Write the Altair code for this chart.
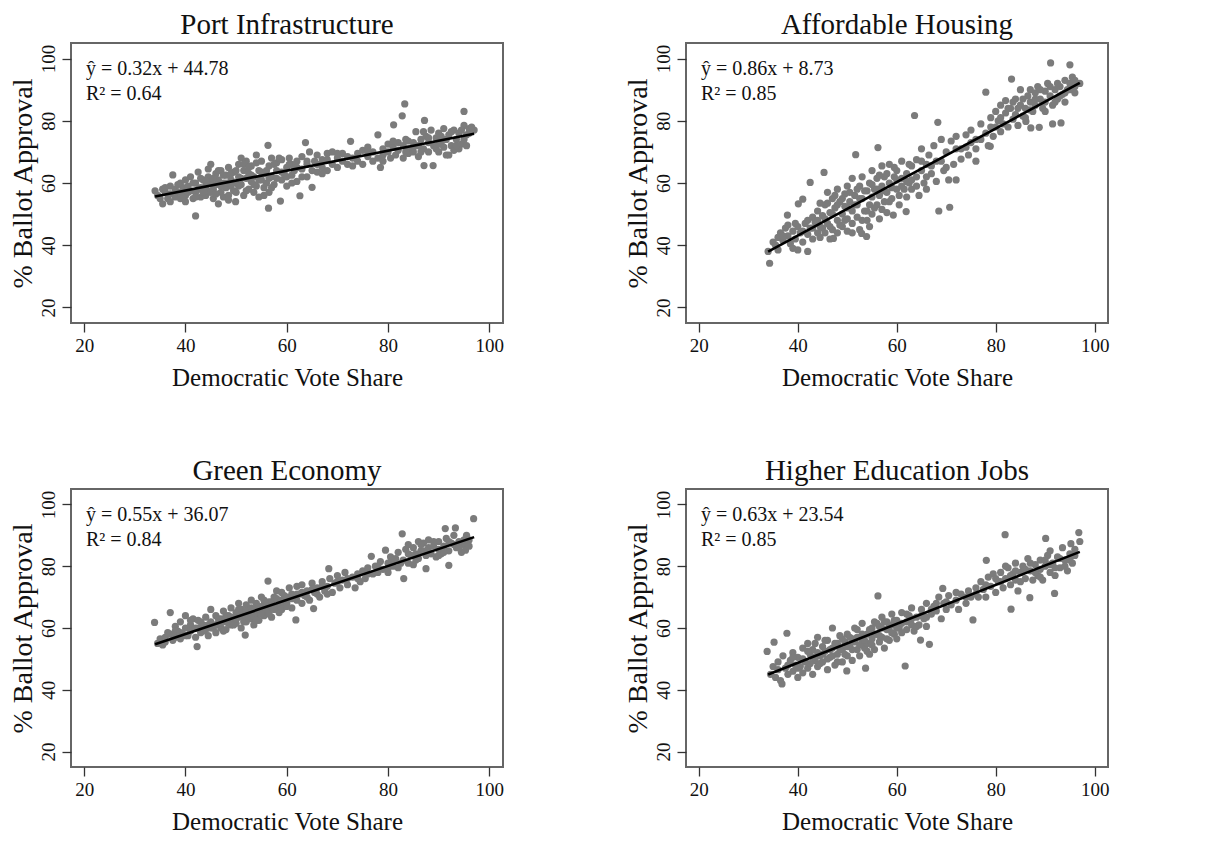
import altair as alt
import pandas as pd

# ---------------- data ----------------
titles = ["Port Infrastructure", "Affordable Housing", "Green Economy", "Higher Education Jobs"]
slopes = [0.32, 0.86, 0.55, 0.63]
intercepts = [44.78, 8.73, 36.07, 23.54]
eq_labels = ["ŷ = 0.32x + 44.78", "ŷ = 0.86x + 8.73", "ŷ = 0.55x + 36.07", "ŷ = 0.63x + 23.54"]
r2_labels = ["R² = 0.64", "R² = 0.85", "R² = 0.84", "R² = 0.85"]
line_x = [34, 97]
tick_values = [20, 40, 60, 80, 100]

port_pts = [
    (34,57.5),(34.5,56),(35,55),(35.5,58),(35.5,53.3),(36,57),(36.5,55),(37,56.5),(37,59),(37.5,62.6),
    (38,58),(38,55.5),(38.5,57),(39,60),(39,55),(39.5,58.5),(40,61),(40,56),(40,54),(40.5,59),
    (41,57.5),(41,62),(41.5,55),(42,49.4),(42,60),(42,57),(42.5,63.5),(43,58.5),(43,55.5),(43.5,61),
    (44,59),(44,56),(44.5,62),(44.5,57.5),(45,60.5),(45,66),(45.5,58),(45.5,55),(46,63),(46,59.5),
    (46.5,53.3),(46.5,61),(47,57),(47,64),(47.5,60),(47.5,55.5),(48,62.5),(48,58.5),(48.5,65),(48.5,56),
    (49,61),(49,59),(49.5,63.5),(49.9,54),(50,60),(50,57),(50.5,66),(50.5,62),(51,68),(51,59.5),
    (51.5,64),(51.5,56),(52,61.5),(52,67),(52.5,58),(52.5,63),(53,60.5),(53,65.5),(53.5,57),(53.5,62),
    (54,69),(54,59),(54.5,64),(54.5,55.5),(55,61),(55,67),(55.5,58.5),(55.5,63),(56,60),(56.3,72.1),
    (56.4,51.9),(56.5,65.5),(56.5,57),(57,62),(57,68),(57.5,59.5),(58,64),(58,66.5),(58.75,54.2),(59,61),
    (59,67.5),(59.5,63),(60,65),(60,59),(60.5,68),(61,62.5),(61,66),(61.5,64),(62,67),(62,60.5),
    (62.6,55.9),(63,64.5),(63,68.5),(63.7,73),(64,62),(64,66),(64.5,70),(65,58.6),(65,64),(65.5,67),
    (66,63.5),(66,69),(67,65),(67,67.5),(68,64),(68,69.5),(69,66),(69,70),(70,68),(70,65),
    (71,67),(71,69.5),(72,66),(72.6,73.4),(73,68),(73,65.5),(74,69.5),(74,67),(75,70.5),(75,66),
    (76,68.5),(76,71.5),(77,67),(77,70),(78,75.5),(78,68),(78.5,65),(79,71),(79,69),(80,70),
    (80,72.5),(80.5,68),(81,71.5),(81.1,78.7),(81.5,69),(82,73),(82,70.5),(82.8,81.6),(83,72),(83,68),
    (83.3,85.4),(83.5,74),(84,71),(84,69.5),(85,73),(85,70),(85.5,76.5),(86,72),(86,68.5),(86.5,74),
    (87,71),(87.1,65.6),(87.2,80.1),(87.5,75),(88,73),(88,70),(88.5,77),(88.9,65.6),(89,72),(89.5,74.5),
    (90,70),(90,76),(90.5,73),(91,71.5),(91,77.5),(91.5,74),(92,69),(92,75.5),(92.5,72),(93,70.5),
    (93,77),(93.5,74),(94,71),(94,76),(94.5,72.5),(95,83),(95,78.5),(95,74),(95.5,72),(96,76),
    (96,77.5),(97,77),
    (36,58.5),(37,54),(38.5,59.5),(39.5,56),(40.5,57),(41.5,60),(42,55.5),(42.5,58),(43,61.5),(43.5,57),
    (44,60.5),(44.5,64.5),(45,57),(45.5,61.5),(46,56.5),(46.5,64),(47,59),(47.5,62.5),(48,60),(48.5,54.5),
    (49,63),(49.5,57.5),(50,64),(50.5,59),(51,61.5),(51.5,66),(52,57.5),(52.5,65),(53,62.5),(53.5,59.5),
    (54,66.5),(54.5,61),(55,63.5),(55.5,56),(56,64),(56.5,61.5),(57,58.5),(57.5,66),(58,61.5),(58.5,68),
    (59,63.5),(60,62),(60.5,66),(61,60),(62,65),(63,62),(64,67),(66,66),(67,63),(68,67.5),
    (70,69.5),(72,68.5),(76,70),(79,67),(81,73.5),(84,73.5),(85,71.5),(86.5,70),(88,74.5),(89.5,71),
    (90.5,75),(91.5,69),(92.5,76.5),(93.5,72),(94.5,77),(95.5,75.5),(96.5,78),(90,72.5),(87,76.5),(83.5,70),
]

housing_pts = [
    (34,38),(34.3,34.2),(35,41),(35.5,40),(36,42.5),(36,38.5),(36.5,44),(37,41.5),(37.5,45.5),(37.9,49.7),
    (38,43),(38.5,40.5),(39,44.5),(39,39),(39.5,42),(40,46),(40,38.5),(40.1,53.3),(40.5,44),(41,54.8),
    (41,41),(41.5,47),(42,43.5),(42,38),(42.5,60.2),(42.5,45.5),(43,49),(43,42),(43.5,47.5),(44,44),
    (44,51),(44.5,46),(44.5,42.5),(45,49.5),(45.3,63.4),(45.5,44),(45.5,53),(46,47),(46,57),(46.5,42),
    (46.5,50.5),(47,55),(47,45),(47.2,42.2),(47.5,52),(48,48),(48,58),(48,44),(48.5,54),(49,50),
    (49,46),(49.5,56.5),(49.5,52.5),(50,48.5),(50,59),(50,44.5),(50.5,54),(51,51),(51,61.5),(51,47),
    (51.7,69.1),(51.5,56),(52,53),(52,49),(52.5,59),(52.5,45),(52.9,43.8),(53,55),(53,62),(53.5,51),
    (53.9,42.8),(54,57.5),(54,48),(54.5,60),(54.5,53),(55,55.5),(55,64),(55,50),(55.5,58),(56,53),
    (56,61.5),(56.2,71.4),(56.5,56),(56.5,48.5),(57,59),(57,65.5),(57.5,54),(57.5,62),(58,57),(58,50.5),
    (58.5,60),(58.5,66),(59,55),(59.3,49.7),(59.5,62),(60,58),(60,64),(60.5,56),(61,61.5),(61,67),
    (61.5,58),(61.9,50.8),(62,63),(62,55.5),(62.5,60),(63,65.5),(63,58),(63.6,81.7),(64,62),(64,67.5),
    (64.5,56),(65,64),(65,71),(65.5,60),(66,66),(66,58),(66.5,69),(67,63),(67.5,72),(68,60.5),
    (68.3,79.5),(68.5,51),(69,67),(69,74),(69.5,64),(70,70),(70.5,61),(70.7,52.2),(71,73.5),(71.5,66),
    (72,61),(72,75),(73,67.7),(73,71),(74,75.5),(74.5,69),(75,73),(75,77),(76,67),(76,71),
    (77,79),(77,74),(78,89.2),(78,76),(78.5,72),(78.9,71.8),(79,81),(79.5,75),(80,83),(80,78),
    (80.5,80),(81,76.5),(81,85),(81.5,79),(82,82.5),(82,86.5),(82.5,78),(83,84),(83.2,93.4),(83.5,80.5),
    (84,87),(84,82),(84.5,78.5),(85,85),(85,90),(85.5,81.5),(86,84),(86.1,79.8),(86.5,88),(87,86),
    (87,90),(87.1,77.7),(87.5,83),(88,89),(88,85),(88.5,91),(88.8,77.9),(89,87),(89.5,84),(90,89.5),
    (90,86),(90.5,92),(91,88),(91.1,98.6),(91.5,79),(91.5,85),(92,90),(92.5,87),(93,91),(93.2,79.3),
    (93.5,88.5),(94,93),(94,86),(94.5,90),(95,98),(95,92),(95.5,94),(96,91),(96,89),(97,92),
    (43,45.5),(44,48),(45,45.5),(45.5,48.5),(46,53.5),(46.5,46),(47,50),(47.5,56),(48,53),(48.5,46.5),
    (49,55),(49.5,48),(50,52),(50.5,57),(51,44),(51.5,53),(52,58),(52.5,55),(53,48),(53.5,57.5),
    (54,51),(54.5,46),(55,59.5),(55.5,52),(56,58),(56.5,62.5),(57,51.5),(57.5,57.5),(58,63),(58.5,54),
    (59,58.5),(59.5,65),(60,61),(60.5,53),(61,59),(62,60.5),(62.5,66),(63,61),(64,59),(65,67),
    (66,62),(67,65.5),(68,67),(70,65),(72,71),(74,71.5),(76,74),(79,78),(81,81),(82.5,84),
    (83.5,86),(84.5,84),(85.5,87),(86,81),(87,83.5),(88,87),(89,90),(89.5,86),(90,83),(91,91),
    (92,86),(92.5,92),(93,88),(94,89),(95,90),(96,93),(37,43),(38,46.5),(39.5,47),(41,44.5),
    (42,48),(44.5,53.5),
]

green_pts = [
    (33.9,61.8),(34.5,55),(35,56.5),(35.5,54.5),(36,57),(36,55.5),(37,65),(37,58),(37.5,56),(38,60.5),
    (38,57),(38.5,59),(39,62),(39,56.5),(39.5,58),(40,60),(40,64),(40.5,57.5),(41,61),(41,59),
    (41.5,63),(42,57),(42.3,54),(42.5,60),(42.5,62.5),(43,58.5),(43.5,61),(44,63.5),(44,59.5),(44.5,57.5),
    (45,62),(45,66),(45.5,60),(46,64),(46,58.5),(46.5,61.5),(47,63),(47,60),(47.5,65.5),(48,62),
    (48,59.5),(48.5,64),(49,61),(49,66.5),(49.5,63),(50,65),(50,61.5),(50.5,68),(50.5,63.5),(51,60),
    (51,66),(51.5,64),(51.8,57.7),(52,62),(52,67.5),(52.5,65),(53,63),(53,69),(53.5,61),(53.5,66),
    (54,64.5),(54,68),(54.5,62.5),(55,66),(55,70),(55.5,64),(55.5,67.5),(56,65.5),(56.3,75.2),(56.5,68.5),
    (57,66.5),(57,63.5),(57.5,70),(58,67),(58,72),(58.5,65),(59,69),(59,71.5),(59.5,67),(60,70),
    (60,68),(60.5,73),(61,66.5),(61,71),(61.8,62.6),(62,69),(62,73.5),(62.5,71),(63,68),(63,74),
    (63.5,70.5),(64,72),(64.5,69),(65,74.5),(65.3,66.3),(65.5,71.5),(66,73),(66.5,70),(67,75),(67.5,72),
    (68,73.5),(68.3,79.2),(68.5,76),(69,71.5),(69.5,74.5),(70,77),(70.5,73),(71,75.5),(71.5,78),(72,74),
    (73,76.5),(73.5,73),(74,77.5),(74.5,75),(75,78.5),(75.5,76),(76,79.5),(76.7,83.2),(77,77.5),(77.5,80),
    (78,78),(78.5,81.5),(79,79),(79.5,85.2),(80,81),(80,78),(80.5,83),(81,80),(81.5,82.5),(82,79.5),
    (82,84.5),(82.8,90.5),(83,82),(83.1,76),(83.5,85.5),(84,81),(84,87),(84.5,83.5),(85,86),(85,80.5),
    (85.5,84),(86,88),(86,82.5),(86.5,85),(87,87.5),(87.5,79.2),(87.5,83.5),(88,86),(88,88.5),(88.5,84),
    (89,86.5),(89.5,83),(90,85.5),(90,88),(90.5,84),(91,86.5),(91.3,92.2),(91.5,89),(92,80.3),(92,85),
    (92.5,87.5),(93,90),(93.3,92.4),(93.5,86),(94,88),(94.5,84.5),(95,87),(95.3,85.2),(95.5,90),(96,88.5),
    (96.9,95.4),
    (36.5,58.5),(38,59),(39,58.5),(40,57.5),(41,62.5),(42,60),(43,62),(43.5,59),(44.5,61),(45,60),
    (46,61),(46.5,63),(47,61.5),(47.5,59),(48,64),(48.5,61.5),(49,63.5),(49.5,61),(50,63),(50.5,66),
    (51,64.5),(51.5,62),(52,65.5),(52.5,63),(53,66.5),(53.5,64),(54,62.5),(54.5,67),(55,64.5),(55.5,69),
    (56,67),(56.5,64.5),(57,68.5),(57.5,66),(58,69.5),(58.5,68),(59,66),(59.5,70.5),(60,67),(61,69.5),
    (62,71),(63,71.5),(64,70),(65,72.5),(66,71),(67,73.5),(68,71),(70,75),(72,76),(74,76),
    (76,77.5),(78,80),(80,79.5),(81,82),(82.5,81),(84,84),(85.5,82),(86.5,87),(87,85),(88,84.5),
    (89,88),(90,83.5),(91,84.5),(92,88),(93,87),(94,86),(95,88.5),(96,86.5),
]

edu_pts = [
    (33.8,52.4),(34.5,45),(35,47.5),(35.2,55.4),(35.5,44),(36,49),(36,46.5),(36.5,43),(36.8,41.9),(37,51),
    (37.5,47),(37.8,58.3),(38,45),(38.5,49.5),(39,52),(39,46),(39.5,48),(40,44),(40,50.5),(40.5,47.5),
    (41,53.5),(41,45.5),(41.5,49),(42,55),(42,47),(42.5,51.5),(43,45),(43,53),(43.5,49.5),(44,57),
    (44,47.5),(44.5,51),(45,54),(45,49),(45.5,52.5),(46,46.5),(46,56),(46.5,50.5),(47,53.5),(47,60),
    (47.5,48),(48,55),(48,51.5),(48.5,57.5),(49,49),(49,53),(49.5,55.5),(49.9,46.1),(50,58),(50,51),
    (50.5,54.5),(51,56.5),(51,49.5),(51.5,60),(52,53),(52,57),(52.5,51),(53,55.5),(53,61.5),(53.5,53.5),
    (53.7,47),(54,58),(54,55),(54.5,51.5),(55,60),(55,56.5),(55.5,62),(55.5,53),(56,58),(56.2,70.4),
    (56.5,55.5),(56.5,60.5),(57,57),(57,63.5),(57.5,53.5),(58,59.5),(58,62),(58.5,56),(59,61),(59,64.5),
    (59.5,58),(60,62.5),(60,56.5),(60.5,60),(61,65),(61,58.5),(61.7,47.7),(62,62),(62,59.5),(62.5,64),
    (63,61),(63,66.5),(63.5,59),(64,63.5),(64.5,61),(64.8,56.1),(65,66),(65.5,63),(66,60.5),(66,68),
    (66.6,54.7),(67,64.5),(67.5,67),(68,65.5),(68.5,70),(69,63),(69.3,72.8),(69.5,68),(70,66),(70.5,70.5),
    (71,67.5),(72,69),(72.5,66),(73,71),(74,68),(74.5,72),(75,70),(75.4,62.6),(76,73),(76.5,70),
    (77,75),(77.5,72.5),(78,70),(78.1,81.9),(78.5,76.5),(79,73.5),(79.5,77.5),(80,71.5),(80.5,75),(81,78),
    (81.5,73),(81.9,90.2),(82,76),(82.5,79.5),(83,74),(83.1,66.1),(83.5,77.5),(84,81),(84,75.5),(84.5,72),
    (85,78),(85.5,80),(86,76),(86.5,82.5),(86.9,69.8),(87,78.5),(87.5,75.5),(88,80.5),(88.5,77),(89,82),
    (89,79),(89.5,75.5),(90,80),(90.1,89),(90.5,83.5),(91,78),(91,85),(91.5,81),(91.9,71.2),(92,77),
    (92.5,83),(93,79.5),(93.5,86),(94,82),(94.5,78.5),(95,84),(95.2,87.3),(95.5,81),(96,85.5),(96.8,90.9),
    (97,88),
    (38,48),(39,50.5),(40,47),(41,50),(42,52.5),(42.5,48.5),(43,50.5),(43.5,55),(44,52),(44.5,48.5),
    (45,51.5),(45.5,56),(46,50),(46.5,53),(47,51),(47.5,55),(48,49),(48.5,53),(49,56.5),(49.5,51.5),
    (50,54),(50.5,57),(51,53),(51.5,55.5),(52,59.5),(52.5,54.5),(53,58),(53.5,56),(54,52.5),(54.5,59.5),
    (55,54.5),(55.5,58),(56,61.5),(56.5,57.5),(57,60),(57.5,62),(58,56.5),(58.5,60.5),(59,58.5),(59.5,62.5),
    (60,60),(61,61.5),(62,64.5),(63,63),(64,60.5),(65,64),(66,63.5),(67,66),(68,68),(70,68.5),
    (72,71.5),(74,70),(76,71),(78,74),(80,76),(81,75),(82,80),(83,77),(84,78.5),(85,75),
    (86,79),(87,81),(88,78),(89,76.5),(90,82),(91,80.5),(92,79.5),(93,82.5),(94,80),(95,82),
    (96,83.5),
]

all_pts = [port_pts, housing_pts, green_pts, edu_pts]

FONT = "Liberation Serif"
POINT_COLOR = "#7b7b7b"


def panel(i, w, h):
    df = pd.DataFrame(all_pts[i], columns=["x", "y"])
    xs = alt.Scale(domain=[17.4, 102.7], nice=False, zero=False)
    ys = alt.Scale(domain=[15, 105], nice=False, zero=False)
    xaxis = alt.Axis(values=tick_values, title="Democratic Vote Share", grid=False, domain=False,
                     tickSize=9, tickWidth=1.3, tickColor="#333", labelFontSize=19, labelColor="#111",
                     labelFont=FONT, labelPadding=4, titleFont=FONT, titleFontSize=25,
                     titleFontWeight="normal", titleColor="#111", titlePadding=10)
    yaxis = alt.Axis(values=tick_values, title="% Ballot Approval", grid=False, domain=False,
                     tickSize=9, tickWidth=1.3, tickColor="#333", labelFontSize=19, labelColor="#111",
                     labelFont=FONT, labelAngle=-90, labelAlign="center", labelBaseline="bottom",
                     labelPadding=4, titleFont=FONT, titleFontSize=28, titleFontWeight="normal",
                     titleColor="#111", titlePadding=2)
    points = alt.Chart(df).mark_circle(size=52, color=POINT_COLOR, opacity=1).encode(
        x=alt.X("x:Q", scale=xs, axis=xaxis),
        y=alt.Y("y:Q", scale=ys, axis=yaxis),
    )
    ldf = pd.DataFrame({"x": line_x})
    line = alt.Chart(ldf).transform_calculate(
        y=f"{slopes[i]} * datum.x + {intercepts[i]}"
    ).mark_line(color="black", strokeWidth=2.6).encode(
        x=alt.X("x:Q", scale=xs), y=alt.Y("y:Q", scale=ys)
    )
    tdf = pd.DataFrame({"eq": [eq_labels[i]], "r2": [r2_labels[i]]})
    t1 = alt.Chart(tdf).mark_text(font=FONT, fontSize=20, align="left", baseline="alphabetic",
                                  color="#111").encode(
        x=alt.value(15), y=alt.value(32), text="eq:N")
    t2 = alt.Chart(tdf).mark_text(font=FONT, fontSize=20, align="left", baseline="alphabetic",
                                  color="#111").encode(
        x=alt.value(15), y=alt.value(57), text="r2:N")
    return alt.layer(points, line, t1, t2).properties(
        width=w, height=h,
        title=alt.TitleParams(titles[i], font=FONT, fontSize=29, fontWeight="normal", color="#111",
                              anchor="middle", offset=3),
    )


row1 = alt.hconcat(panel(0, 432, 280), panel(1, 422, 280), spacing=118)
row2 = alt.hconcat(panel(2, 432, 278), panel(3, 422, 278), spacing=118)
chart = alt.vconcat(row1, row2, spacing=65).configure_view(
    stroke="#666", strokeWidth=2
).properties(padding={"left": 0, "top": 2, "right": 5, "bottom": 2}, background="white")

chart.save("out.html", embed_options={"renderer": "svg", "actions": False})
